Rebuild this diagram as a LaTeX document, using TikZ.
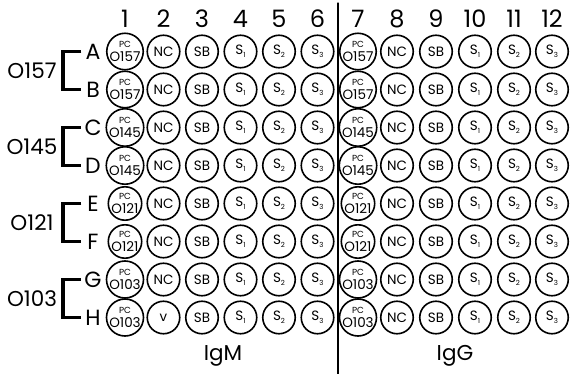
\documentclass[tikz,border=0pt]{standalone}
\usepackage{fontspec}
\setmainfont{Poppins}
\newcommand{\wellS}[1]{S\raisebox{-3pt}{\fontsize{7}{7}\selectfont #1}}
\begin{document}
\begin{tikzpicture}[
    x=1pt, y=-1pt,
    line cap=round,
    well/.style={draw, circle, line width=1.6pt, minimum size=32.5pt, inner sep=0pt,
                 align=center, font=\fontsize{13.5}{13.5}\selectfont},
    collabel/.style={font=\fontsize{24}{24}\selectfont},
    rowlabel/.style={font=\fontsize{22}{22}\selectfont, minimum width=16pt, inner sep=0pt},
    grplabel/.style={font=\fontsize{21.5}{21.5}\selectfont},
    bracket/.style={line width=3.8pt, line cap=butt, line join=miter}
]
\useasboundingbox (0,0) rectangle (570,374);

% column numbers
\foreach \c/\x in {1/125,2/163.5,3/202,4/240.5,5/279,6/317.5,
                   7/358,8/397,9/436,10/475,11/514,12/552}
  \node[collabel] (col-\c) at (\x,19) {\c};

% wells, row by row
\foreach \r/\y/\g in {A/51.5/O157, B/89.5/O157, C/127.5/O145, D/165.5/O145,
                      E/203.5/O121, F/241.5/O121, G/279.5/O103, H/317.5/O103} {
  \node[rowlabel] (row-\r) at (93,\y) {\r};
  \foreach \c/\x in {1/125,2/163.5,3/202,4/240.5,5/279,6/317.5,
                     7/358,8/397,9/436,10/475,11/514,12/552} {
    \pgfmathtruncatemacro\k{mod(\c-1,6)}
    \ifcase\k \node[well] (w-\r-\c) at (\x,\y) {\fontsize{8.8}{10.2}\selectfont PC\\\g};
    \or \ifnum\c=2 \if\r H\node[well] (w-\r-\c) at (\x,\y) {v};
                   \else \node[well] (w-\r-\c) at (\x,\y) {NC};\fi
        \else \node[well] (w-\r-\c) at (\x,\y) {NC};\fi
    \or \node[well] (w-\r-\c) at (\x,\y) {SB};
    \or \node[well] (w-\r-\c) at (\x,\y) {\wellS{1}};
    \or \node[well] (w-\r-\c) at (\x,\y) {\wellS{2}};
    \or \node[well] (w-\r-\c) at (\x,\y) {\wellS{3}};
    \fi
  }
}

% serogroup brackets
\foreach \a/\b/\g/\m in {A/B/O157/70.5, C/D/O145/146.5, E/F/O121/222.5, G/H/O103/298.5} {
  \draw[bracket] ([xshift=-3.5pt]row-\a.west) -- ++(-18,0) |- ([xshift=-3.5pt]row-\b.west);
  \node[grplabel] (grp-\g) at (32,\m) {\g};
}

% divider between IgM and IgG halves
\coordinate (top) at (338,3);
\coordinate (bot) at (338,374);
\draw[line width=1.3pt] (top) -- (bot);

\node[grplabel] (igm) at (223,356) {IgM};
\node[grplabel] (igg) at (455,356) {IgG};
\end{tikzpicture}
\end{document}
